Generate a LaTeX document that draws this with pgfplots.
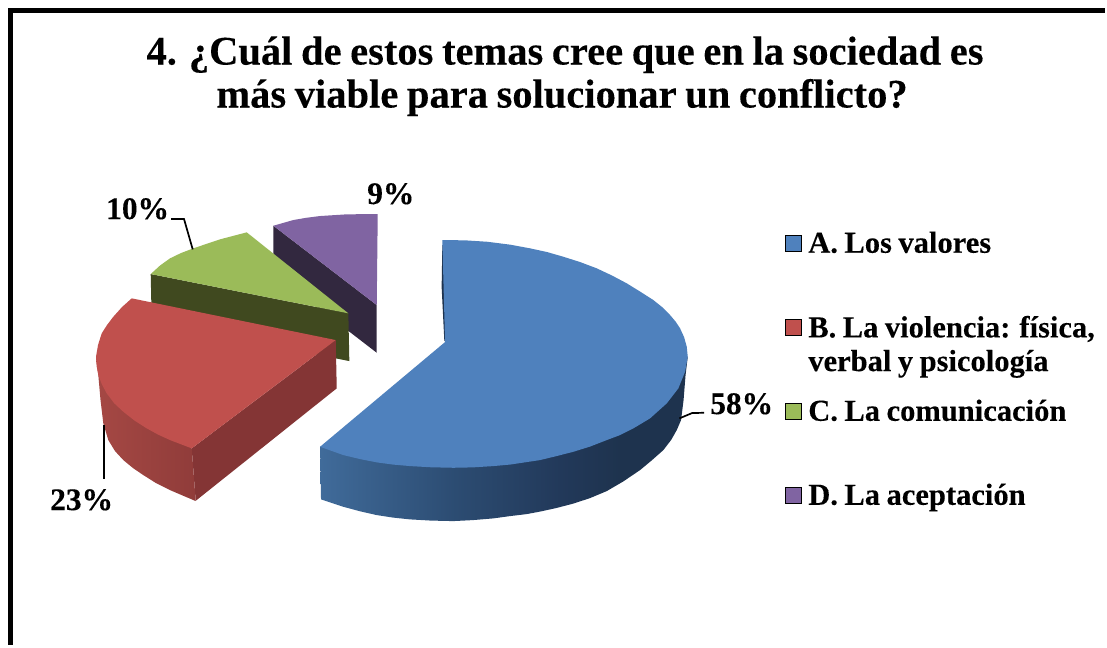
\documentclass[border=0pt]{standalone}
\usepackage{pgfplots}
\pgfplotsset{compat=1.18}
\usepackage{fontspec}
\setmainfont[WordSpace=0.85,BoldFeatures={FakeBold=0.2}]{Liberation Serif}
\definecolor{bluetop}{HTML}{4F81BD}
\definecolor{redtop}{HTML}{C0504D}
\definecolor{greentop}{HTML}{9BBB59}
\definecolor{purpletop}{HTML}{8064A2}
\definecolor{reddark}{HTML}{843535}
\definecolor{greendark}{HTML}{40491F}
\definecolor{purpledark}{HTML}{32283F}
\definecolor{bluedark}{HTML}{1E334E}
\definecolor{bw1}{HTML}{406B9A}
\definecolor{bw2}{HTML}{2C4C72}
\definecolor{bw3}{HTML}{22395A}
\definecolor{rw1}{HTML}{A54844}
\definecolor{rw2}{HTML}{903C3A}
\pgfdeclarehorizontalshading{bluewall}{100bp}{color(0bp)=(bw1); color(25bp)=(bw1); color(43.4bp)=(bw2); color(57.6bp)=(bw3); color(65.8bp)=(bluedark); color(100bp)=(bluedark)}
\pgfdeclarehorizontalshading{redwall}{100bp}{color(0bp)=(rw1); color(25bp)=(rw1); color(75bp)=(rw2); color(100bp)=(rw2)}
\begin{document}
\begin{tikzpicture}
\begin{axis}[
  width=1107pt, height=646pt, scale only axis, hide axis,
  xmin=0, xmax=1104.5, ymin=0, ymax=644.5, y dir=reverse, clip=false,
  every axis plot/.append style={line join=miter}]
% page extent
\addplot[draw=none, mark=none] coordinates {(0,0) (1104.5,644.5)};
% frame
\addplot[black, line width=4.8pt, mark=none] coordinates {(10.2,644.5) (10.2,10.6) (1104.5,10.6)};
% D purple
\addplot[draw=none, fill=purpledark, mark=none] coordinates {(273.3,225.7) (376.7,305) (376.7,352.7) (273.3,273)} --cycle;
\addplot[draw=none, fill=purpletop, mark=none] coordinates {(273.3,225.7) (293.3,220) (306,217.8) (320,216) (346.7,214.3) (377.7,214) (376.7,305)} --cycle;
% C green
\addplot[draw=none, fill=greendark, mark=none] coordinates {(150.7,274) (348.3,313.3) (349.3,361) (151.7,322)} --cycle;
\addplot[draw=none, fill=greentop, mark=none] coordinates {(150.7,274) (160,265.5) (170,258.3) (181,253) (193.3,248.3) (220,239.3) (246.7,232.3) (348.3,313.3)} --cycle;
% B red
\addplot[draw=none, fill=reddark, mark=none] coordinates {(191.7,448.3) (335.7,340) (336.7,388.3) (195.7,500.7)} --cycle;
\addplot[draw=none, shade, shading=redwall, mark=none] coordinates {(96,356.7) (98.3,375) (100.5,400) (103.3,423.3) (108.3,440) (115,451) (123.3,460) (133,468) (143.3,475) (156,483) (170,490) (195.7,501) (191.7,448.3)} --cycle;
\addplot[draw=none, fill=redtop, mark=none] coordinates {(131.7,298.3) (122,307) (113.3,316.7) (107,325) (101.7,333.3) (98,345) (96,356.7) (96.6,366) (98.3,375) (102,384.5) (106.7,393.3) (114,403) (123.3,411.7) (134.5,420.5) (146.7,428.3) (158,434.5) (170,440) (191.7,448.3) (335.7,340)} --cycle;
% A blue
\addplot[draw=none, shade, shading=bluewall, mark=none] coordinates {(320,446.7) (321,499.3) (343.3,506.7) (360,511.2) (376.7,515) (393,517.5) (410,519.3) (431,520.5) (453.3,521) (473,520) (493.3,518.3) (510,516) (526.7,514) (540,511.5) (556,508) (573.3,503.5) (590,498) (606.7,491) (623,481.5) (640,470) (652,460) (663.3,450) (671,440) (676.7,430) (681,420) (683.5,400) (685.5,375) (687.7,356.7)} --cycle;
\addplot[draw=none, fill=bluedark, mark=none] coordinates {(442.3,245) (441.6,287) (444.3,341) (446,341) (444,287) (443,245)} --cycle;
\addplot[draw=none, fill=bluetop, mark=none] coordinates {(442.3,240) (465,240.3) (487,241.7) (510,244.6) (530,248.3) (547,252) (563.3,256.7) (580,262) (596.7,268.3) (612,275.5) (626.7,283.3) (640,291.5) (653.3,300) (662,307) (670,315) (675.5,321.5) (680,328.3) (684,337) (686.7,346.7) (687.7,356.7) (685,371.7) (678.3,388.3) (666.7,403.3) (650,418.3) (633.3,428.3) (620,435) (606.7,440) (590,446.5) (573.3,451.7) (556.5,456) (540,460) (526.7,462) (510,464.5) (493.3,466) (473,467.3) (453.3,467.7) (431,467.2) (410,466) (393,464.5) (376.7,462.3) (360,459) (343.3,455) (320,446.7) (445,342)} --cycle;
% leader lines
\addplot[black, line width=1.7pt, mark=none] coordinates {(679.3,418.3) (692,413) (704,412.7)};
\addplot[black, line width=1.7pt, mark=none] coordinates {(171,219) (184,219) (192.7,249.3)};
\addplot[black, line width=1.7pt, mark=none] coordinates {(104.3,425) (104.3,479.3)};
% legend keys
\addplot[only marks, mark=square*, mark size=8pt, mark options={draw=none, fill=bluetop}] coordinates {(793,243)};
\addplot[only marks, mark=square*, mark size=8pt, mark options={draw=none, fill=redtop}] coordinates {(793,327)};
\addplot[only marks, mark=square*, mark size=8pt, mark options={draw=none, fill=greentop}] coordinates {(793,411)};
\addplot[only marks, mark=square*, mark size=8pt, mark options={draw=none, fill=purpletop}] coordinates {(793,495)};
% title
\node[anchor=base, font=\fontsize{40.6}{40.6}\selectfont\bfseries, inner sep=0pt] at (axis cs:565,64.5) {4. ¿Cuál de estos temas cree que en la sociedad es};
\node[anchor=base, font=\fontsize{40.6}{40.6}\selectfont\bfseries, inner sep=0pt] at (axis cs:562,107.5) {más viable para solucionar un conflicto?};
% data labels
\node[anchor=base west, font=\fontsize{31.5}{31.5}\selectfont\bfseries, inner sep=0pt] at (axis cs:710,414) {58\%};
\node[anchor=base west, font=\fontsize{31.5}{31.5}\selectfont\bfseries, inner sep=0pt] at (axis cs:50,510) {23\%};
\node[anchor=base west, font=\fontsize{31.5}{31.5}\selectfont\bfseries, inner sep=0pt] at (axis cs:106,219) {10\%};
\node[anchor=base west, font=\fontsize{31.5}{31.5}\selectfont\bfseries, inner sep=0pt] at (axis cs:367,204) {9\%};
% legend text
\node[anchor=base west, font=\fontsize{30.6}{30.6}\selectfont\bfseries, inner sep=0pt] at (axis cs:808,252.7) {A. Los valores};
\node[anchor=base west, font=\fontsize{30.6}{30.6}\selectfont\bfseries, inner sep=0pt] at (axis cs:808,337.3) {B. La violencia: física,};
\node[anchor=base west, font=\fontsize{30.6}{30.6}\selectfont\bfseries, inner sep=0pt] at (axis cs:808,371) {verbal y psicología};
\node[anchor=base west, font=\fontsize{30.6}{30.6}\selectfont\bfseries, inner sep=0pt] at (axis cs:808,420.7) {C. La comunicación};
\node[anchor=base west, font=\fontsize{30.6}{30.6}\selectfont\bfseries, inner sep=0pt] at (axis cs:808,504.7) {D. La aceptación};
\end{axis}
\end{tikzpicture}
\end{document}
